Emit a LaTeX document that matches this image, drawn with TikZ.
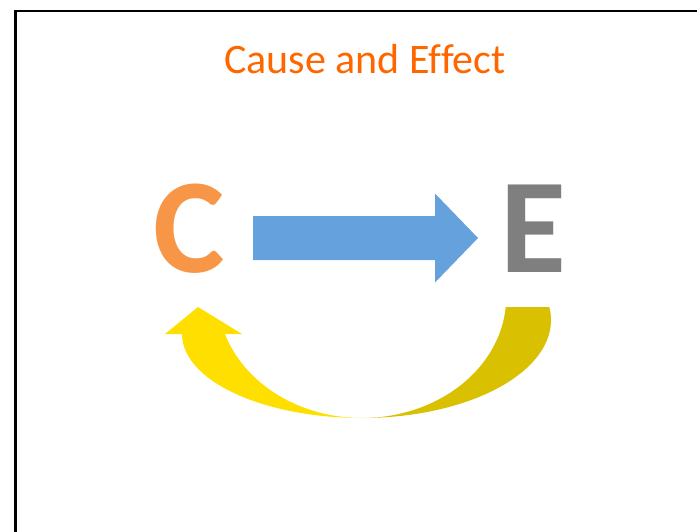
\documentclass[tikz,border=0pt]{standalone}
\usepackage{fontspec}
\setmainfont{Carlito}[Ligatures=NoCommon]
\usetikzlibrary{calc}

\definecolor{titleorange}{RGB}{255,102,0}
\definecolor{causeorange}{RGB}{247,150,70}
\definecolor{effectgray}{RGB}{127,127,127}
\definecolor{arrowblue}{RGB}{101,161,221}
\definecolor{loopfront}{RGB}{255,223,0}
\definecolor{loopback}{RGB}{217,192,0}

\tikzset{
  frameline/.style={draw=black, line width=2.4pt},
  titletext/.style={text=titleorange, inner sep=0pt, anchor=base,
    font=\fontsize{42}{42}\selectfont},
  letter/.style={inner sep=0pt, anchor=base,
    font=\bfseries\fontsize{135}{135}\selectfont},
  blockarrow/.style={fill=arrowblue},
  loopfrontfill/.style={fill=loopfront},
  loopbackfill/.style={fill=loopback},
}

\begin{document}
\begin{tikzpicture}[x=1pt, y=-1pt]
  \useasboundingbox (0,0) rectangle (697,531);
  \clip (0,0) rectangle (697,531);

  % slide frame (only left and top edges fall inside the page)
  \draw[frameline] (15.3,560) -- (15.3,11.2) -- (720,11.2);

  % title
  \node[titletext] (title) at (365,73) {Cause and Effect};

  % cause and effect letters
  \node[letter, text=causeorange] (C) at (189.5,272) {C};
  \node[letter, text=effectgray] (E) at (533.5,272) {E};

  % straight block arrow from C to E
  \coordinate (tail) at (253,238);
  \coordinate (tip) at (478,238);
  \fill[blockarrow] ($(tail)+(0,-22)$) -- ($(tip)+(-43,-22)$)
    -- ($(tip)+(-43,-44.5)$) -- (tip) -- ($(tip)+(-43,44.5)$)
    -- ($(tip)+(-43,22)$) -- ($(tail)+(0,22)$) -- cycle;

  % curved return arrow: back half under E
  \fill[loopbackfill] (549.3,307)
    -- plot[domain=-7.62:90, samples=60, variable=\t]
       ({362+189*cos(\t)},{320+98*sin(\t)})
    -- plot[domain=90:4.74, samples=60, variable=\t]
       ({362+144.2*cos(\t)},{297+121*sin(\t)})
    -- cycle;

  % curved return arrow: front half with head under C
  \fill[loopfrontfill] (182,334) -- (165,334) -- (198,307) -- (242,334)
    -- (225,334)
    -- plot[domain=161.5:90, samples=60, variable=\t]
       ({362+144.5*cos(\t)},{295+123*sin(\t)})
    -- plot[domain=90:180, samples=60, variable=\t]
       ({362+180*cos(\t)},{334+84*sin(\t)})
    -- cycle;
\end{tikzpicture}
\end{document}
